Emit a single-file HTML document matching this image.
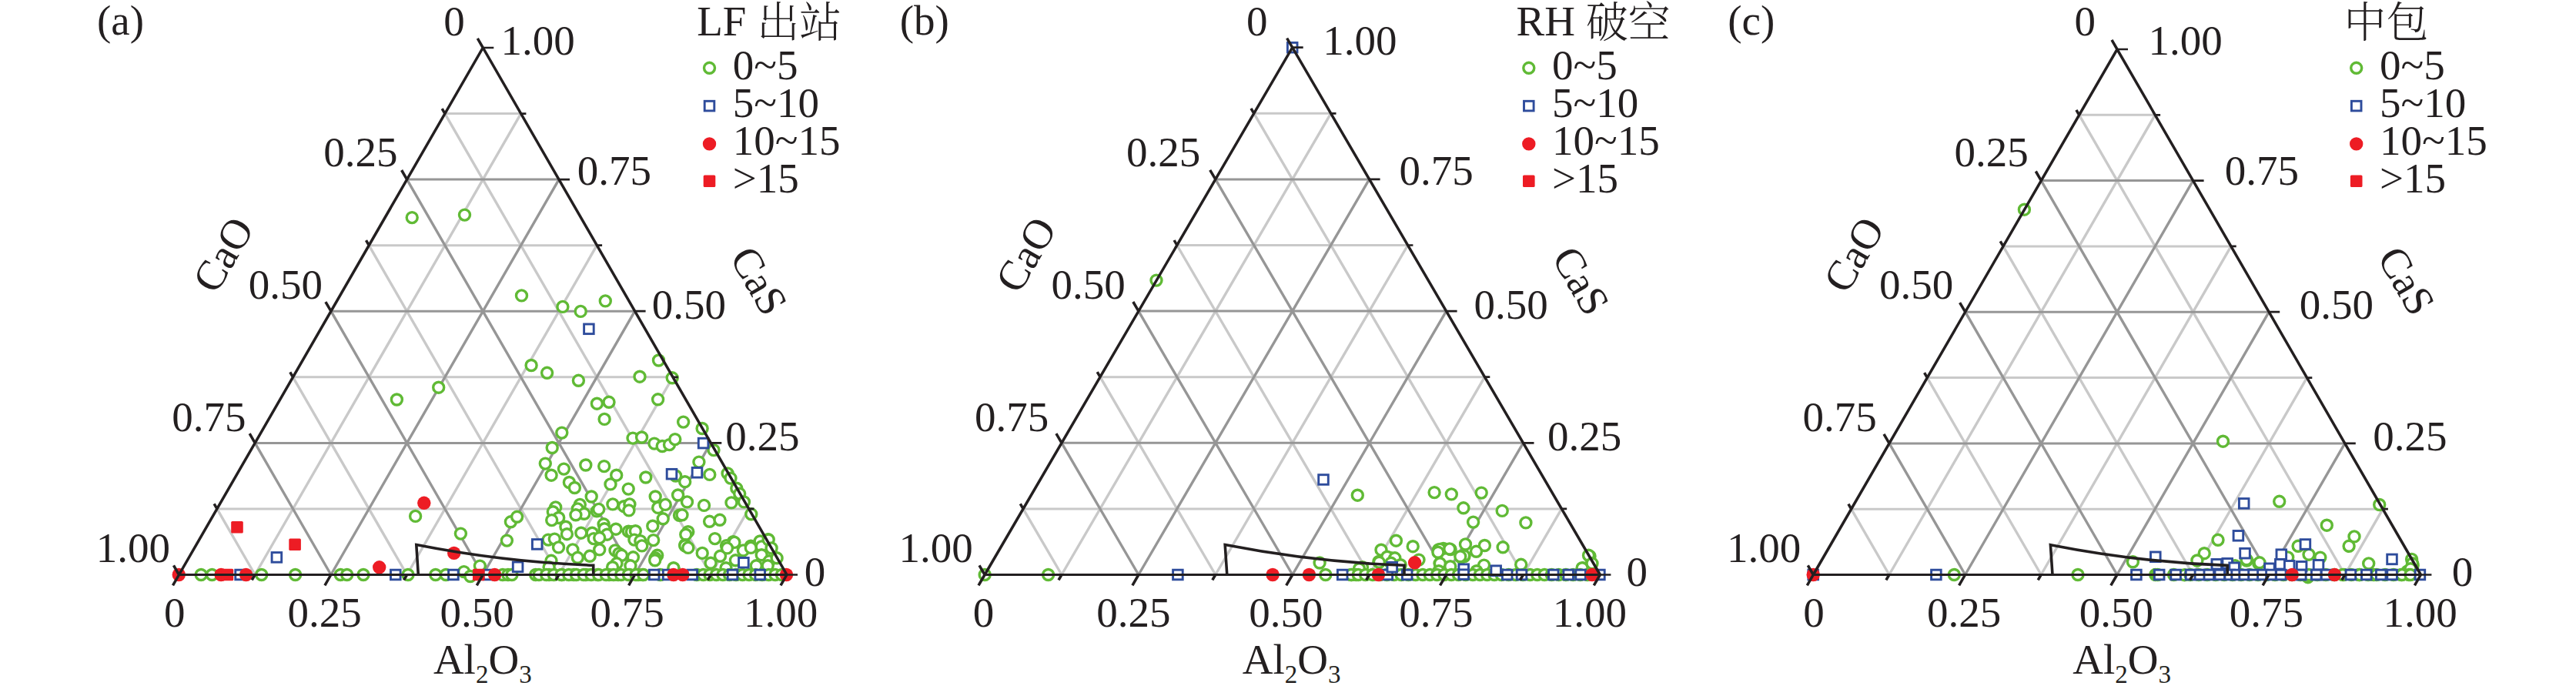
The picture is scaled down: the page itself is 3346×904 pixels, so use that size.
<!DOCTYPE html>
<html lang="zh"><head><meta charset="utf-8"><title>Ternary diagrams</title>
<style>
html,body{margin:0;padding:0;background:#fff}
svg{display:block}
text{font-family:"Liberation Serif","Noto Serif CJK SC",serif;font-size:55px;fill:#231f20}
.cj{font-family:"Noto Serif CJK SC","Liberation Serif",serif;font-weight:300}
</style></head><body>
<svg width="3346" height="904" viewBox="0 0 3346 904">
<defs>
<circle id="g" r="7" fill="#fff" stroke="#60ba35" stroke-width="3.4"/>
<rect id="b" x="-6.3" y="-6.3" width="12.6" height="12.6" fill="#fff" stroke="#2e4c9c" stroke-width="2.9"/>
<circle id="r" r="8.7" fill="#ed1c24"/>
<rect id="s" x="-7.8" y="-7.8" width="15.6" height="15.6" rx="1.6" fill="#ed1c24"/>
</defs>
<rect width="3346" height="904" fill="#fff"/>
<path d="M281.9 660.9L972.7 660.9M380.5 489.8L874 489.8M479.2 318.7L775.3 318.7M577.9 147.6L676.6 147.6" stroke="#c9c9c9" stroke-width="3.0" fill="none"/>
<path d="M331.2 746.5L676.6 147.6M923.3 746.5L577.9 147.6M528.6 746.5L775.3 318.7M725.9 746.5L479.2 318.7M725.9 746.5L874 489.8M528.6 746.5L380.5 489.8M923.3 746.5L972.7 660.9M331.2 746.5L281.9 660.9" stroke="#c9c9c9" stroke-width="3.4" fill="none"/>
<path d="M331.2 575.4L923.3 575.4M429.9 404.2L824.6 404.2M528.6 233.1L726 233.1" stroke="#969696" stroke-width="3.0" fill="none"/>
<path d="M429.9 746.5L726 233.1M824.6 746.5L528.6 233.1M627.2 746.5L824.6 404.2M627.2 746.5L429.9 404.2M824.6 746.5L923.3 575.4M429.9 746.5L331.2 575.4" stroke="#969696" stroke-width="3.4" fill="none"/>
<path d="M1329 660.9L2028.4 660.9M1429 489.7L1928.5 489.7M1528.8 318.5L1828.6 318.5M1628.8 147.3L1728.7 147.3" stroke="#c9c9c9" stroke-width="3.0" fill="none"/>
<path d="M1379 746.5L1728.7 147.3M1978.5 746.5L1628.8 147.3M1578.8 746.5L1828.6 318.5M1778.7 746.5L1528.8 318.5M1778.7 746.5L1928.5 489.7M1578.8 746.5L1429 489.7M1978.5 746.5L2028.4 660.9M1379 746.5L1329 660.9" stroke="#c9c9c9" stroke-width="3.4" fill="none"/>
<path d="M1379 575.3L1978.5 575.3M1478.9 404.1L1878.6 404.1M1578.8 232.9L1778.6 232.9" stroke="#969696" stroke-width="3.0" fill="none"/>
<path d="M1478.9 746.5L1778.6 232.9M1878.6 746.5L1578.8 232.9M1678.8 746.5L1878.6 404.1M1678.8 746.5L1478.9 404.1M1878.6 746.5L1978.5 575.3M1478.9 746.5L1379 575.3" stroke="#969696" stroke-width="3.4" fill="none"/>
<path d="M2404.6 661.2L3095.1 661.2M2503.3 490.6L2996.5 490.6M2602 319.9L2897.9 319.9M2700.7 149.3L2799.3 149.3" stroke="#c9c9c9" stroke-width="3.0" fill="none"/>
<path d="M2453.9 746.5L2799.3 149.3M3045.8 746.5L2700.7 149.3M2651.2 746.5L2897.9 319.9M2848.5 746.5L2602 319.9M2848.5 746.5L2996.5 490.6M2651.2 746.5L2503.3 490.6M3045.8 746.5L3095.1 661.2M2453.9 746.5L2404.6 661.2" stroke="#c9c9c9" stroke-width="3.4" fill="none"/>
<path d="M2454 575.9L3045.8 575.9M2552.7 405.2L2947.2 405.2M2651.3 234.6L2848.6 234.6" stroke="#969696" stroke-width="3.0" fill="none"/>
<path d="M2552.6 746.5L2848.6 234.6M2947.1 746.5L2651.3 234.6M2749.9 746.5L2947.2 405.2M2749.9 746.5L2552.7 405.2M2947.1 746.5L3045.8 575.9M2552.6 746.5L2454 575.9" stroke="#969696" stroke-width="3.4" fill="none"/>
<use href="#g" x="535.2" y="282.6"/>
<use href="#g" x="603.5" y="279.1"/>
<use href="#g" x="677.5" y="383.9"/>
<use href="#g" x="730.9" y="398.4"/>
<use href="#g" x="754.2" y="404.4"/>
<use href="#g" x="786.3" y="390.9"/>
<use href="#g" x="690.1" y="474.5"/>
<use href="#g" x="710.6" y="484.3"/>
<use href="#g" x="751.4" y="494.3"/>
<use href="#g" x="855.5" y="468"/>
<use href="#g" x="831" y="489.2"/>
<use href="#g" x="873.2" y="490.8"/>
<use href="#g" x="569.7" y="503.2"/>
<use href="#g" x="515.4" y="519"/>
<use href="#g" x="775.4" y="524.2"/>
<use href="#g" x="791" y="522.3"/>
<use href="#g" x="854.6" y="518.8"/>
<use href="#g" x="785.1" y="544.4"/>
<use href="#g" x="887.6" y="548.1"/>
<use href="#g" x="912.1" y="556.5"/>
<use href="#g" x="729.8" y="562.1"/>
<use href="#g" x="822" y="569.1"/>
<use href="#g" x="833.6" y="568"/>
<use href="#g" x="849.9" y="576.1"/>
<use href="#g" x="860.2" y="579.5"/>
<use href="#g" x="869.5" y="577.6"/>
<use href="#g" x="876.8" y="570.6"/>
<use href="#g" x="927" y="584.6"/>
<use href="#g" x="717.2" y="581.5"/>
<use href="#g" x="708.3" y="602.1"/>
<use href="#g" x="732.4" y="609.1"/>
<use href="#g" x="760.8" y="604"/>
<use href="#g" x="784.7" y="605.6"/>
<use href="#g" x="800.7" y="617.2"/>
<use href="#g" x="716.1" y="617.2"/>
<use href="#g" x="838.8" y="620"/>
<use href="#g" x="907.9" y="600.1"/>
<use href="#g" x="877.6" y="618"/>
<use href="#g" x="889.7" y="625.7"/>
<use href="#g" x="921.8" y="616.4"/>
<use href="#g" x="945.1" y="614.9"/>
<use href="#g" x="949" y="621.1"/>
<use href="#g" x="739.4" y="626.5"/>
<use href="#g" x="746.4" y="633.5"/>
<use href="#g" x="793" y="628.9"/>
<use href="#g" x="816.2" y="635.1"/>
<use href="#g" x="956.8" y="634.3"/>
<use href="#g" x="768.2" y="645"/>
<use href="#g" x="851.2" y="645"/>
<use href="#g" x="880.6" y="643"/>
<use href="#g" x="892.5" y="651.9"/>
<use href="#g" x="721.7" y="658.9"/>
<use href="#g" x="718.3" y="664.7"/>
<use href="#g" x="725.7" y="672.5"/>
<use href="#g" x="716.7" y="675.6"/>
<use href="#g" x="753.3" y="655.4"/>
<use href="#g" x="750.3" y="660.9"/>
<use href="#g" x="758.8" y="667.3"/>
<use href="#g" x="747.9" y="668.8"/>
<use href="#g" x="775.2" y="663.9"/>
<use href="#g" x="777.7" y="661.4"/>
<use href="#g" x="795.9" y="654.9"/>
<use href="#g" x="810.5" y="657.7"/>
<use href="#g" x="817.9" y="654.9"/>
<use href="#g" x="816.9" y="662.9"/>
<use href="#g" x="854.7" y="659.4"/>
<use href="#g" x="864.2" y="655.4"/>
<use href="#g" x="861.2" y="673.8"/>
<use href="#g" x="882.5" y="669.3"/>
<use href="#g" x="886" y="668.8"/>
<use href="#g" x="847.8" y="683.2"/>
<use href="#g" x="663.4" y="677.8"/>
<use href="#g" x="671.6" y="671.3"/>
<use href="#g" x="658.4" y="702.1"/>
<use href="#g" x="734.9" y="684.2"/>
<use href="#g" x="736.4" y="693.7"/>
<use href="#g" x="712.1" y="701.1"/>
<use href="#g" x="720.3" y="700.1"/>
<use href="#g" x="754.8" y="692.2"/>
<use href="#g" x="769.2" y="692.2"/>
<use href="#g" x="771.2" y="699.6"/>
<use href="#g" x="784.1" y="680.8"/>
<use href="#g" x="785.1" y="686.7"/>
<use href="#g" x="788.6" y="694.2"/>
<use href="#g" x="778.7" y="698.6"/>
<use href="#g" x="800" y="687.2"/>
<use href="#g" x="816.4" y="690.2"/>
<use href="#g" x="820.4" y="690.7"/>
<use href="#g" x="825.4" y="689.7"/>
<use href="#g" x="823.9" y="701.1"/>
<use href="#g" x="831.8" y="702.6"/>
<use href="#g" x="848.7" y="701.6"/>
<use href="#g" x="960.7" y="641.3"/>
<use href="#g" x="914.5" y="656.4"/>
<use href="#g" x="950" y="652.9"/>
<use href="#g" x="966.4" y="651.9"/>
<use href="#g" x="975.8" y="667.8"/>
<use href="#g" x="921.6" y="677.3"/>
<use href="#g" x="935" y="675.3"/>
<use href="#g" x="893.8" y="690.7"/>
<use href="#g" x="890.8" y="694.2"/>
<use href="#g" x="889.8" y="707.6"/>
<use href="#g" x="928.6" y="699.6"/>
<use href="#g" x="952.4" y="703.6"/>
<use href="#g" x="943.5" y="708.6"/>
<use href="#g" x="987.7" y="704.1"/>
<use href="#g" x="997.7" y="700.6"/>
<use href="#g" x="975.3" y="709.1"/>
<use href="#g" x="725.5" y="710.9"/>
<use href="#g" x="743.9" y="713.9"/>
<use href="#g" x="750.3" y="724.3"/>
<use href="#g" x="716" y="728.3"/>
<use href="#g" x="713.1" y="736.7"/>
<use href="#g" x="766.2" y="722.3"/>
<use href="#g" x="778.7" y="713.9"/>
<use href="#g" x="799" y="714.9"/>
<use href="#g" x="804" y="718.9"/>
<use href="#g" x="807.5" y="721.3"/>
<use href="#g" x="801" y="731.8"/>
<use href="#g" x="795.6" y="736.7"/>
<use href="#g" x="822.4" y="723.8"/>
<use href="#g" x="818.9" y="734.8"/>
<use href="#g" x="833.8" y="708.9"/>
<use href="#g" x="853.7" y="721.3"/>
<use href="#g" x="851.2" y="724.8"/>
<use href="#g" x="850.7" y="727.8"/>
<use href="#g" x="875.1" y="738.7"/>
<use href="#g" x="889.8" y="708.9"/>
<use href="#g" x="893.8" y="711.4"/>
<use href="#g" x="912.2" y="718.4"/>
<use href="#g" x="935.5" y="722.3"/>
<use href="#g" x="923.1" y="731.3"/>
<use href="#g" x="953.9" y="704.4"/>
<use href="#g" x="944.5" y="711.9"/>
<use href="#g" x="965.4" y="714.9"/>
<use href="#g" x="975.3" y="711.4"/>
<use href="#g" x="987.2" y="703"/>
<use href="#g" x="989.2" y="709.9"/>
<use href="#g" x="998.2" y="701"/>
<use href="#g" x="1002.1" y="711.9"/>
<use href="#g" x="955.4" y="727.8"/>
<use href="#g" x="989.2" y="720.8"/>
<use href="#g" x="999.2" y="728.8"/>
<use href="#g" x="1009.1" y="724.8"/>
<use href="#g" x="982.3" y="734.8"/>
<use href="#g" x="997.2" y="734.8"/>
<use href="#g" x="943" y="737.7"/>
<use href="#g" x="874.9" y="737.7"/>
<use href="#g" x="261.2" y="746.5"/>
<use href="#g" x="275.4" y="746.5"/>
<use href="#g" x="339.7" y="746.5"/>
<use href="#g" x="383.6" y="746.5"/>
<use href="#g" x="442.3" y="746.5"/>
<use href="#g" x="450.7" y="746.5"/>
<use href="#g" x="472" y="746.5"/>
<use href="#g" x="530" y="746.5"/>
<use href="#g" x="565.8" y="746.5"/>
<use href="#g" x="579.2" y="746.5"/>
<use href="#g" x="602.6" y="742.6"/>
<use href="#g" x="610.9" y="748.5"/>
<use href="#g" x="623.4" y="735.1"/>
<use href="#g" x="598.4" y="693.1"/>
<use href="#g" x="539.6" y="670.4"/>
<use href="#g" x="652.9" y="746.5"/>
<use href="#g" x="659.9" y="746.5"/>
<use href="#g" x="664.9" y="746.5"/>
<use href="#g" x="695.7" y="746.5"/>
<use href="#g" x="713.1" y="746.5"/>
<use href="#g" x="730" y="746.5"/>
<use href="#g" x="745.4" y="746.5"/>
<use href="#g" x="760.8" y="746.5"/>
<use href="#g" x="776.2" y="746.5"/>
<use href="#g" x="791.1" y="746.5"/>
<use href="#g" x="803" y="746.5"/>
<use href="#g" x="817.9" y="746.5"/>
<use href="#g" x="828.9" y="746.5"/>
<use href="#g" x="834.8" y="746.5"/>
<use href="#g" x="857.7" y="746.5"/>
<use href="#g" x="700" y="746.5"/>
<use href="#g" x="709.7" y="746.5"/>
<use href="#g" x="719.4" y="746.5"/>
<use href="#g" x="729.1" y="746.5"/>
<use href="#g" x="738.8" y="746.5"/>
<use href="#g" x="748.5" y="746.5"/>
<use href="#g" x="758.2" y="746.5"/>
<use href="#g" x="767.9" y="746.5"/>
<use href="#g" x="777.6" y="746.5"/>
<use href="#g" x="787.3" y="746.5"/>
<use href="#g" x="797" y="746.5"/>
<use href="#g" x="806.7" y="746.5"/>
<use href="#g" x="816.4" y="746.5"/>
<use href="#g" x="826.1" y="746.5"/>
<use href="#g" x="835.8" y="746.5"/>
<use href="#g" x="905" y="746.5"/>
<use href="#g" x="913.5" y="746.5"/>
<use href="#g" x="922" y="746.5"/>
<use href="#g" x="930.5" y="746.5"/>
<use href="#g" x="939" y="746.5"/>
<use href="#g" x="947.5" y="746.5"/>
<use href="#g" x="956" y="746.5"/>
<use href="#g" x="964.5" y="746.5"/>
<use href="#g" x="973" y="746.5"/>
<use href="#g" x="981.5" y="746.5"/>
<use href="#g" x="990" y="746.5"/>
<use href="#g" x="998.5" y="746.5"/>
<use href="#g" x="1007" y="746.5"/>
<use href="#g" x="1015.5" y="746.5"/>
<use href="#b" x="764.9" y="427.3"/>
<use href="#b" x="913.6" y="575.6"/>
<use href="#b" x="872.5" y="615.7"/>
<use href="#b" x="905.5" y="613.8"/>
<use href="#b" x="697.7" y="706.9"/>
<use href="#b" x="672.6" y="736.3"/>
<use href="#b" x="965.9" y="730.8"/>
<use href="#b" x="312.1" y="746.5"/>
<use href="#b" x="513.8" y="746.5"/>
<use href="#b" x="588.9" y="746.5"/>
<use href="#b" x="634.3" y="746.5"/>
<use href="#b" x="359.4" y="723.9"/>
<use href="#b" x="849.7" y="746.5"/>
<use href="#b" x="867.6" y="746.5"/>
<use href="#b" x="899.3" y="746.5"/>
<use href="#b" x="951.5" y="746.5"/>
<use href="#b" x="987.2" y="746.5"/>
<use href="#r" x="232.3" y="746.5"/>
<use href="#r" x="287.1" y="746.5"/>
<use href="#r" x="319.6" y="746.5"/>
<use href="#r" x="492.7" y="736.8"/>
<use href="#r" x="642.6" y="746.5"/>
<use href="#r" x="589.7" y="718.4"/>
<use href="#r" x="550.8" y="653.3"/>
<use href="#r" x="874.9" y="746.5"/>
<use href="#r" x="886.8" y="746.5"/>
<use href="#r" x="1021.5" y="746.5"/>
<use href="#s" x="295.4" y="746.5"/>
<use href="#s" x="621.8" y="746.5"/>
<use href="#s" x="308" y="684.7"/>
<use href="#s" x="383.1" y="707.3"/>
<use href="#g" x="1502" y="364.1"/>
<use href="#g" x="1763.3" y="643.2"/>
<use href="#g" x="1863.1" y="639.6"/>
<use href="#g" x="1885.3" y="641.9"/>
<use href="#g" x="1924.2" y="640.1"/>
<use href="#g" x="1900.9" y="659.8"/>
<use href="#g" x="1951.2" y="663.4"/>
<use href="#g" x="1913.6" y="678.1"/>
<use href="#g" x="1981.9" y="678.9"/>
<use href="#g" x="1813.4" y="702.2"/>
<use href="#g" x="1835.2" y="709.7"/>
<use href="#g" x="1794" y="714.2"/>
<use href="#g" x="1903.5" y="706.9"/>
<use href="#g" x="1928.4" y="708.5"/>
<use href="#g" x="1952.1" y="710.8"/>
<use href="#g" x="1868.6" y="713.9"/>
<use href="#g" x="1874.8" y="712.4"/>
<use href="#g" x="1884.1" y="713.6"/>
<use href="#g" x="1917.5" y="716.3"/>
<use href="#g" x="1898.1" y="724"/>
<use href="#g" x="1902" y="722.5"/>
<use href="#g" x="1806.5" y="724.8"/>
<use href="#g" x="1811.1" y="725.6"/>
<use href="#g" x="1790.9" y="729.5"/>
<use href="#g" x="1801.8" y="723.2"/>
<use href="#g" x="1843" y="727.1"/>
<use href="#g" x="1870.1" y="731.8"/>
<use href="#g" x="1878.7" y="737.2"/>
<use href="#g" x="1927.6" y="734.1"/>
<use href="#g" x="1975.7" y="733.3"/>
<use href="#g" x="1714.1" y="731"/>
<use href="#g" x="2065" y="722.5"/>
<use href="#g" x="2067.3" y="732.6"/>
<use href="#g" x="2056.5" y="738"/>
<use href="#g" x="1811.8" y="724.8"/>
<use href="#g" x="1806.8" y="731.3"/>
<use href="#g" x="1791.4" y="730.3"/>
<use href="#g" x="1819.2" y="733.7"/>
<use href="#g" x="1870.4" y="713.4"/>
<use href="#g" x="1867.9" y="717.3"/>
<use href="#g" x="1882.8" y="712.9"/>
<use href="#g" x="1901.7" y="721.8"/>
<use href="#g" x="1896.8" y="722.8"/>
<use href="#g" x="1870.4" y="731.8"/>
<use href="#g" x="1883.8" y="735.7"/>
<use href="#g" x="1868.9" y="741.7"/>
<use href="#g" x="1769.5" y="736.7"/>
<use href="#g" x="1765.5" y="738.7"/>
<use href="#g" x="1721.8" y="746.5"/>
<use href="#g" x="1755.6" y="746.5"/>
<use href="#g" x="1761.6" y="746.5"/>
<use href="#g" x="1917.9" y="741.7"/>
<use href="#g" x="2063.5" y="721.3"/>
<use href="#g" x="2068" y="731.8"/>
<use href="#g" x="2055.1" y="737.7"/>
<use href="#g" x="1755" y="746.5"/>
<use href="#g" x="1764.3" y="746.5"/>
<use href="#g" x="1773.6" y="746.5"/>
<use href="#g" x="1782.9" y="746.5"/>
<use href="#g" x="1792.2" y="746.5"/>
<use href="#g" x="1801.5" y="746.5"/>
<use href="#g" x="1810.8" y="746.5"/>
<use href="#g" x="1820.1" y="746.5"/>
<use href="#g" x="1829.4" y="746.5"/>
<use href="#g" x="1838.7" y="746.5"/>
<use href="#g" x="1848" y="746.5"/>
<use href="#g" x="1857.3" y="746.5"/>
<use href="#g" x="1866.6" y="746.5"/>
<use href="#g" x="1875.9" y="746.5"/>
<use href="#g" x="1885.2" y="746.5"/>
<use href="#g" x="1894.5" y="746.5"/>
<use href="#g" x="1903.8" y="746.5"/>
<use href="#g" x="1913.1" y="746.5"/>
<use href="#g" x="1922.4" y="746.5"/>
<use href="#g" x="1931.7" y="746.5"/>
<use href="#g" x="1941" y="746.5"/>
<use href="#g" x="1950.3" y="746.5"/>
<use href="#g" x="1959.6" y="746.5"/>
<use href="#g" x="1968.9" y="746.5"/>
<use href="#g" x="1978.2" y="746.5"/>
<use href="#g" x="1987.5" y="746.5"/>
<use href="#g" x="1996.8" y="746.5"/>
<use href="#g" x="2006.1" y="746.5"/>
<use href="#g" x="2015.4" y="746.5"/>
<use href="#g" x="2024.7" y="746.5"/>
<use href="#g" x="2034" y="746.5"/>
<use href="#g" x="2043.3" y="746.5"/>
<use href="#g" x="2052.6" y="746.5"/>
<use href="#g" x="2061.9" y="746.5"/>
<use href="#g" x="1279.2" y="746.5"/>
<use href="#g" x="1361.6" y="746.5"/>
<use href="#b" x="1678.7" y="61.7"/>
<use href="#b" x="1719" y="623"/>
<use href="#b" x="1529.9" y="746.5"/>
<use href="#b" x="1743.7" y="746.5"/>
<use href="#b" x="1802.3" y="746.5"/>
<use href="#b" x="1808.3" y="736.7"/>
<use href="#b" x="1827.7" y="746.5"/>
<use href="#b" x="1901.2" y="739.2"/>
<use href="#b" x="1901.2" y="746.2"/>
<use href="#b" x="1943.2" y="741.2"/>
<use href="#b" x="1957.7" y="746.5"/>
<use href="#b" x="1976.5" y="746.5"/>
<use href="#b" x="2017.8" y="746.5"/>
<use href="#b" x="2037.2" y="746.5"/>
<use href="#b" x="2053.1" y="746.5"/>
<use href="#b" x="2077.9" y="746.5"/>
<use href="#r" x="1653.1" y="746.5"/>
<use href="#r" x="1700.4" y="746.5"/>
<use href="#r" x="1790.4" y="746.5"/>
<use href="#r" x="1837.6" y="730.8"/>
<use href="#r" x="2068" y="746.5"/>
<use href="#g" x="2629.4" y="272.2"/>
<use href="#g" x="2887.5" y="573.2"/>
<use href="#g" x="2960.7" y="651.3"/>
<use href="#g" x="3090.7" y="655.5"/>
<use href="#g" x="3022.3" y="682.2"/>
<use href="#g" x="3058" y="696.9"/>
<use href="#g" x="3051.1" y="709.3"/>
<use href="#g" x="2881" y="701.3"/>
<use href="#g" x="2863.2" y="718.7"/>
<use href="#g" x="2853.9" y="728"/>
<use href="#g" x="2918.3" y="728"/>
<use href="#g" x="2933.8" y="731.9"/>
<use href="#g" x="2970.3" y="725.7"/>
<use href="#g" x="2985.1" y="709.3"/>
<use href="#g" x="2999" y="720.2"/>
<use href="#g" x="3013.8" y="724.1"/>
<use href="#g" x="3076.7" y="731.9"/>
<use href="#g" x="3132.6" y="726.4"/>
<use href="#g" x="3134.1" y="734.2"/>
<use href="#g" x="3127.1" y="742"/>
<use href="#g" x="2770.4" y="729.8"/>
<use href="#g" x="2799.8" y="746.5"/>
<use href="#g" x="2802.7" y="746.5"/>
<use href="#g" x="2823.6" y="746.5"/>
<use href="#g" x="2837.5" y="746.7"/>
<use href="#g" x="2918.1" y="726.8"/>
<use href="#g" x="2935" y="730.8"/>
<use href="#g" x="2903.1" y="734.8"/>
<use href="#g" x="2971.7" y="723.9"/>
<use href="#g" x="3133.5" y="731.8"/>
<use href="#g" x="3131" y="738.8"/>
<use href="#g" x="3119" y="746.5"/>
<use href="#g" x="3129" y="746.5"/>
<use href="#g" x="3064.4" y="746.5"/>
<use href="#g" x="2997.8" y="749.7"/>
<use href="#g" x="3044.5" y="746.5"/>
<use href="#g" x="3083.3" y="746.5"/>
<use href="#g" x="2845" y="746.5"/>
<use href="#g" x="2856" y="746.5"/>
<use href="#g" x="2867" y="746.5"/>
<use href="#g" x="2878" y="746.5"/>
<use href="#g" x="2889" y="746.5"/>
<use href="#g" x="2900" y="746.5"/>
<use href="#g" x="2911" y="746.5"/>
<use href="#g" x="2922" y="746.5"/>
<use href="#g" x="2933" y="746.5"/>
<use href="#g" x="2944" y="746.5"/>
<use href="#g" x="2955" y="746.5"/>
<use href="#g" x="2966" y="746.5"/>
<use href="#g" x="2977" y="746.5"/>
<use href="#g" x="2988" y="746.5"/>
<use href="#g" x="2999" y="746.5"/>
<use href="#g" x="3010" y="746.5"/>
<use href="#g" x="3021" y="746.5"/>
<use href="#g" x="3032" y="746.5"/>
<use href="#g" x="3043" y="746.5"/>
<use href="#g" x="3054" y="746.5"/>
<use href="#g" x="3065" y="746.5"/>
<use href="#g" x="3076" y="746.5"/>
<use href="#g" x="3087" y="746.5"/>
<use href="#g" x="3098" y="746.5"/>
<use href="#g" x="3109" y="746.5"/>
<use href="#g" x="3120" y="746.5"/>
<use href="#g" x="3131" y="746.5"/>
<use href="#g" x="2538.3" y="746.5"/>
<use href="#g" x="2699" y="746.5"/>
<use href="#b" x="2914.7" y="653.9"/>
<use href="#b" x="2907.4" y="695.8"/>
<use href="#b" x="2799.8" y="723.3"/>
<use href="#b" x="2916" y="718.7"/>
<use href="#b" x="2963.3" y="720.2"/>
<use href="#b" x="2994.4" y="707"/>
<use href="#b" x="3107" y="726.4"/>
<use href="#b" x="2879.3" y="732.8"/>
<use href="#b" x="2893.2" y="731.8"/>
<use href="#b" x="2902.1" y="737.3"/>
<use href="#b" x="2947.9" y="738.3"/>
<use href="#b" x="2961.8" y="732.8"/>
<use href="#b" x="2973.7" y="734.8"/>
<use href="#b" x="2989.6" y="735.8"/>
<use href="#b" x="3011.5" y="733.8"/>
<use href="#b" x="2355.2" y="746.5"/>
<use href="#b" x="2514.9" y="746.5"/>
<use href="#b" x="2774.9" y="746.5"/>
<use href="#b" x="2804.7" y="746.5"/>
<use href="#b" x="2826.1" y="746.5"/>
<use href="#b" x="2845.5" y="746.5"/>
<use href="#b" x="2857.4" y="746.5"/>
<use href="#b" x="2869.3" y="746.5"/>
<use href="#b" x="2883.3" y="746.5"/>
<use href="#b" x="2896.2" y="746.5"/>
<use href="#b" x="2905.1" y="746.5"/>
<use href="#b" x="2915.1" y="746.5"/>
<use href="#b" x="2927" y="746.5"/>
<use href="#b" x="2938.9" y="746.5"/>
<use href="#b" x="2949.9" y="746.5"/>
<use href="#b" x="2962.8" y="746.5"/>
<use href="#b" x="2987.6" y="746.5"/>
<use href="#b" x="3010.5" y="746.5"/>
<use href="#b" x="2988.8" y="746.5"/>
<use href="#b" x="3008.7" y="746.5"/>
<use href="#b" x="3021.6" y="746.5"/>
<use href="#b" x="3053.4" y="746.5"/>
<use href="#b" x="3073.8" y="746.5"/>
<use href="#b" x="3092.7" y="746.5"/>
<use href="#b" x="3107.1" y="746.5"/>
<use href="#b" x="3143.4" y="746.5"/>
<use href="#r" x="2355.2" y="746.5"/>
<use href="#r" x="2977.2" y="746.5"/>
<use href="#r" x="3032.5" y="746.5"/>
<path d="M232.5 746.5L224.5 760.4M232.5 746.5L225.5 734.4M331.2 746.5L327.2 753.4M281.9 660.9L278.1 654.4M429.9 746.5L421.9 760.4M331.2 575.4L324.2 563.2M528.6 746.5L524.6 753.4M380.5 489.8L376.8 483.3M627.2 746.5L619.3 760.4M429.9 404.2L422.9 392.1M725.9 746.5L721.9 753.4M479.2 318.7L475.5 312.2M824.6 746.5L816.6 760.4M528.6 233.1L521.6 221M923.3 746.5L919.3 753.4M577.9 147.6L574.2 141.1M1022 746.5L1014 760.4M627.3 62L620.3 49.9M232.5 746.5L627.3 62L1022 746.5" stroke="#231f20" stroke-width="3.5" fill="none" stroke-linejoin="miter"/>
<path d="M231.5 746.5L1023 746.5" stroke="#231f20" stroke-width="3.0" fill="none"/>
<path d="M1022 746.5L1036 746.5M972.7 660.9L979.5 660.9M923.3 575.4L937.3 575.4M874 489.8L880.8 489.8M824.6 404.2L838.6 404.2M775.3 318.7L782.1 318.7M726 233.1L740 233.1M676.6 147.6L683.4 147.6M627.3 62L641.3 62" stroke="#231f20" stroke-width="2.7" fill="none"/>
<path d="M543.3 746.5L540.8 707.6Q655.7 730.3 770.7 734.3L770.7 746.5" stroke="#231f20" stroke-width="3.6" fill="none" stroke-linejoin="miter"/>
<path d="M1279.1 746.5L1271 760.3M1279.1 746.5L1272 734.4M1379 746.5L1375 753.4M1329 660.9L1325.3 654.4M1478.9 746.5L1470.9 760.3M1379 575.3L1371.9 563.2M1578.8 746.5L1574.8 753.4M1429 489.7L1425.2 483.2M1678.8 746.5L1670.7 760.3M1478.9 404.1L1471.8 392M1778.7 746.5L1774.6 753.4M1528.8 318.5L1525.1 312M1878.6 746.5L1870.5 760.3M1578.8 232.9L1571.7 220.8M1978.5 746.5L1974.5 753.4M1628.8 147.3L1625 140.8M2078.4 746.5L2070.3 760.3M1678.7 61.7L1671.6 49.6M1279.1 746.5L1678.7 61.7L2078.4 746.5" stroke="#231f20" stroke-width="3.5" fill="none" stroke-linejoin="miter"/>
<path d="M1278.1 746.5L2079.4 746.5" stroke="#231f20" stroke-width="3.0" fill="none"/>
<path d="M2078.4 746.5L2092.4 746.5M2028.4 660.9L2035.2 660.9M1978.5 575.3L1992.5 575.3M1928.5 489.7L1935.3 489.7M1878.6 404.1L1892.6 404.1M1828.6 318.5L1835.4 318.5M1778.6 232.9L1792.6 232.9M1728.7 147.3L1735.5 147.3M1678.7 61.7L1692.7 61.7" stroke="#231f20" stroke-width="2.7" fill="none"/>
<path d="M1593.8 746.5L1591.2 707.6Q1707.5 730.3 1824 734.3L1824 746.5" stroke="#231f20" stroke-width="3.6" fill="none" stroke-linejoin="miter"/>
<path d="M2355.3 746.5L2347.3 760.4M2355.3 746.5L2348.3 734.4M2453.9 746.5L2449.9 753.4M2404.6 661.2L2400.9 654.7M2552.6 746.5L2544.6 760.4M2454 575.9L2447 563.8M2651.2 746.5L2647.2 753.4M2503.3 490.6L2499.6 484.1M2749.9 746.5L2741.8 760.4M2552.7 405.2L2545.6 393.1M2848.5 746.5L2844.5 753.4M2602 319.9L2598.2 313.4M2947.1 746.5L2939.1 760.4M2651.3 234.6L2644.3 222.5M3045.8 746.5L3041.8 753.4M2700.7 149.3L2696.9 142.8M3144.4 746.5L3136.4 760.4M2750 64L2743 51.9M2355.3 746.5L2750 64L3144.4 746.5" stroke="#231f20" stroke-width="3.5" fill="none" stroke-linejoin="miter"/>
<path d="M2354.3 746.5L3145.4 746.5" stroke="#231f20" stroke-width="3.0" fill="none"/>
<path d="M3144.4 746.5L3158.4 746.5M3095.1 661.2L3101.9 661.2M3045.8 575.9L3059.8 575.9M2996.5 490.6L3003.3 490.6M2947.2 405.2L2961.2 405.2M2897.9 319.9L2904.7 319.9M2848.6 234.6L2862.6 234.6M2799.3 149.3L2806.1 149.3M2750 64L2764 64" stroke="#231f20" stroke-width="2.7" fill="none"/>
<path d="M2666 746.5L2663.4 707.7Q2778.3 730.3 2893.2 734.4L2893.2 746.5" stroke="#231f20" stroke-width="3.6" fill="none" stroke-linejoin="miter"/>
<text x="126" y="45">(a)</text>
<text x="603.8" y="46" text-anchor="end">0</text>
<text x="516.6" y="216" text-anchor="end">0.25</text>
<text x="419" y="388.3" text-anchor="end">0.50</text>
<text x="319.5" y="559.6" text-anchor="end">0.75</text>
<text x="221" y="730.2" text-anchor="end">1.00</text>
<text x="650.5" y="71">1.00</text>
<text x="749.7" y="240.4">0.75</text>
<text x="846.7" y="414">0.50</text>
<text x="942.2" y="584.8">0.25</text>
<text x="1044.7" y="760.8">0</text>
<text x="226.7" y="814.2" text-anchor="middle">0</text>
<text x="421.6" y="814.2" text-anchor="middle">0.25</text>
<text x="619.5" y="814.2" text-anchor="middle">0.50</text>
<text x="814.5" y="814.2" text-anchor="middle">0.75</text>
<text x="1014.1" y="814.2" text-anchor="middle">1.00</text>
<text x="280.6" y="383.5" transform="rotate(-60 280.6 383.5)">CaO</text>
<text x="947" y="334.2" transform="rotate(60 947 334.2)">CaS</text>
<text x="951.8" y="102.7">0~5</text>
<text x="951.8" y="152">5~10</text>
<text x="951.8" y="201.3">10~15</text>
<text x="951.8" y="249.6">&gt;15</text>
<text x="1168.7" y="45">(b)</text>
<text x="1646.5" y="46" text-anchor="end">0</text>
<text x="1559.3" y="216" text-anchor="end">0.25</text>
<text x="1461.7" y="388.3" text-anchor="end">0.50</text>
<text x="1362.2" y="559.6" text-anchor="end">0.75</text>
<text x="1263.7" y="730.2" text-anchor="end">1.00</text>
<text x="1718.2" y="71">1.00</text>
<text x="1817.4" y="240.4">0.75</text>
<text x="1914.4" y="414">0.50</text>
<text x="2009.9" y="584.8">0.25</text>
<text x="2112.4" y="760.8">0</text>
<text x="1277.5" y="814.2" text-anchor="middle">0</text>
<text x="1472.4" y="814.2" text-anchor="middle">0.25</text>
<text x="1670.3" y="814.2" text-anchor="middle">0.50</text>
<text x="1865.3" y="814.2" text-anchor="middle">0.75</text>
<text x="2064.9" y="814.2" text-anchor="middle">1.00</text>
<text x="1323.3" y="383.5" transform="rotate(-60 1323.3 383.5)">CaO</text>
<text x="2014.7" y="334.2" transform="rotate(60 2014.7 334.2)">CaS</text>
<text x="2016.1" y="102.7">0~5</text>
<text x="2016.1" y="152">5~10</text>
<text x="2016.1" y="201.3">10~15</text>
<text x="2016.1" y="249.6">&gt;15</text>
<text x="2244.2" y="45">(c)</text>
<text x="2722" y="46" text-anchor="end">0</text>
<text x="2634.8" y="216" text-anchor="end">0.25</text>
<text x="2537.2" y="388.3" text-anchor="end">0.50</text>
<text x="2437.7" y="559.6" text-anchor="end">0.75</text>
<text x="2339.2" y="730.2" text-anchor="end">1.00</text>
<text x="2790.5" y="71">1.00</text>
<text x="2889.7" y="240.4">0.75</text>
<text x="2986.7" y="414">0.50</text>
<text x="3082.2" y="584.8">0.25</text>
<text x="3184.7" y="760.8">0</text>
<text x="2356.1" y="814.2" text-anchor="middle">0</text>
<text x="2551" y="814.2" text-anchor="middle">0.25</text>
<text x="2748.9" y="814.2" text-anchor="middle">0.50</text>
<text x="2943.9" y="814.2" text-anchor="middle">0.75</text>
<text x="3143.5" y="814.2" text-anchor="middle">1.00</text>
<text x="2398.8" y="383.5" transform="rotate(-60 2398.8 383.5)">CaO</text>
<text x="3087" y="334.2" transform="rotate(60 3087 334.2)">CaS</text>
<text x="3091" y="102.7">0~5</text>
<text x="3091" y="152">5~10</text>
<text x="3091" y="201.3">10~15</text>
<text x="3091" y="249.6">&gt;15</text>
<text x="562.9" y="874.8">Al<tspan font-size="33" dy="12">2</tspan><tspan dy="-12">O</tspan><tspan font-size="33" dy="12">3</tspan></text>
<text x="905.2" y="46.3">LF <tspan class="cj" dy="2">出站</tspan></text>
<use href="#g" x="921.5" y="88.3"/>
<use href="#b" x="921.5" y="137.6"/>
<use href="#r" x="921.5" y="186.9"/>
<use href="#s" x="921.5" y="235.2"/>
<text x="1613.7" y="874.8">Al<tspan font-size="33" dy="12">2</tspan><tspan dy="-12">O</tspan><tspan font-size="33" dy="12">3</tspan></text>
<text x="1969.5" y="46.3">RH <tspan class="cj" dy="2">破空</tspan></text>
<use href="#g" x="1985.8" y="88.3"/>
<use href="#b" x="1985.8" y="137.6"/>
<use href="#r" x="1985.8" y="186.9"/>
<use href="#s" x="1985.8" y="235.2"/>
<text x="2692.3" y="874.8">Al<tspan font-size="33" dy="12">2</tspan><tspan dy="-12">O</tspan><tspan font-size="33" dy="12">3</tspan></text>
<text x="3044.4" y="46.3"><tspan class="cj" dy="2">中包</tspan></text>
<use href="#g" x="3060.7" y="88.3"/>
<use href="#b" x="3060.7" y="137.6"/>
<use href="#r" x="3060.7" y="186.9"/>
<use href="#s" x="3060.7" y="235.2"/>
</svg>
</body></html>
